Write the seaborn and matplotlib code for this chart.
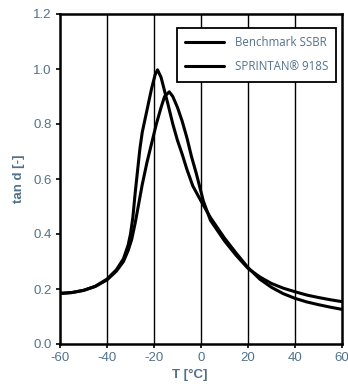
import matplotlib
matplotlib.use("Agg")
import matplotlib.pyplot as plt
import seaborn as sns
import pandas as pd

sns.set_theme(style="white")
plt.rcParams['font.family'] = ['Liberation Sans', 'DejaVu Sans']

series_names = ["Benchmark SSBR", "SPRINTAN® 918S"]

temp_a = [-60, -55, -50, -45, -40, -36, -33, -31, -30, -29, -28, -27, -26, -25, -24, -23, -22, -21,
          -19.5, -18.5, -17, -15.5, -14, -12, -10, -8, -6, -3.5, 0, 4, 10, 15, 20, 25, 30, 35, 40, 45,
          50, 55, 60]
tand_a = [0.184, 0.187, 0.195, 0.210, 0.236, 0.27, 0.31, 0.36, 0.40, 0.46, 0.55, 0.63, 0.71, 0.77,
          0.81, 0.85, 0.89, 0.93, 0.98, 0.997, 0.97, 0.92, 0.87, 0.80, 0.74, 0.69, 0.635, 0.575, 0.52,
          0.46, 0.385, 0.33, 0.278, 0.236, 0.206, 0.183, 0.166, 0.153, 0.143, 0.134, 0.126]

temp_b = [-60, -55, -50, -45, -40, -36, -33, -31, -29.5, -28, -26.5, -25, -23, -21, -19, -17, -15.5,
          -13.5, -12, -10, -8, -6, -4, -2, -0.5, 1, 4, 10, 15, 20, 25, 30, 35, 40, 45, 50, 55, 60]
tand_b = [0.184, 0.187, 0.195, 0.209, 0.233, 0.265, 0.30, 0.34, 0.38, 0.44, 0.51, 0.58, 0.66, 0.73,
          0.80, 0.86, 0.90, 0.917, 0.90, 0.86, 0.81, 0.75, 0.68, 0.62, 0.57, 0.52, 0.45, 0.375, 0.322,
          0.275, 0.244, 0.220, 0.203, 0.190, 0.178, 0.169, 0.161, 0.154]

x_ticks = [-60, -40, -20, 0, 20, 40, 60]
y_ticks = [0.0, 0.2, 0.4, 0.6, 0.8, 1.0, 1.2]

df = pd.concat([
    pd.DataFrame({"T": temp_a, "tand": tand_a, "series": series_names[0]}),
    pd.DataFrame({"T": temp_b, "tand": tand_b, "series": series_names[1]}),
])

label_color = "#52728b"

fig = plt.figure(figsize=(3.48, 3.90), dpi=100)
ax = fig.add_axes([60/348, 46/390, 282/348, 330/390])

sns.lineplot(data=df, x="T", y="tand", hue="series", palette=["black", "black"],
             linewidth=2.2, sort=False, ax=ax, estimator=None)

ax.set_xlim(-60, 60)
ax.set_ylim(0, 1.2)
ax.set_xticks(x_ticks)
ax.set_yticks(y_ticks)
ax.set_xticklabels([f"{t}" for t in x_ticks])
ax.set_yticklabels([f"{v:.1f}" for v in y_ticks])

for t in x_ticks[1:-1]:
    ax.axvline(t, color="black", linewidth=1.0, zorder=0)

for s in ax.spines.values():
    s.set_color("black")
    s.set_linewidth(1.8)

ax.tick_params(axis="both", which="major", direction="out", length=3, width=1.2,
               color="black", labelcolor=label_color, labelsize=9.5, pad=3,
               bottom=True, left=True)

ax.set_xlabel("T [°C]", color=label_color, fontsize=9.5, fontweight="bold", labelpad=2)
ax.xaxis.set_label_coords(0.46, -0.075)
ax.set_ylabel("tan d [-]", color=label_color, fontsize=9.5, fontweight="bold", labelpad=6)

leg = ax.legend(loc="upper left", bbox_to_anchor=(0.415, 0.958), borderaxespad=0,
                frameon=True, fancybox=False,
                borderpad=0.7, handlelength=3.4, handletextpad=0.9, labelspacing=1.0,
                prop={"family": "Open Sans", "size": 8.3})
leg.get_frame().set_edgecolor("black")
leg.get_frame().set_linewidth(1.3)
leg.get_frame().set_facecolor("white")
leg.get_frame().set_alpha(1)
for txt in leg.get_texts():
    txt.set_color(label_color)
for ln in leg.get_lines():
    ln.set_linewidth(2.2)

fig.savefig("out.png", dpi=100)
